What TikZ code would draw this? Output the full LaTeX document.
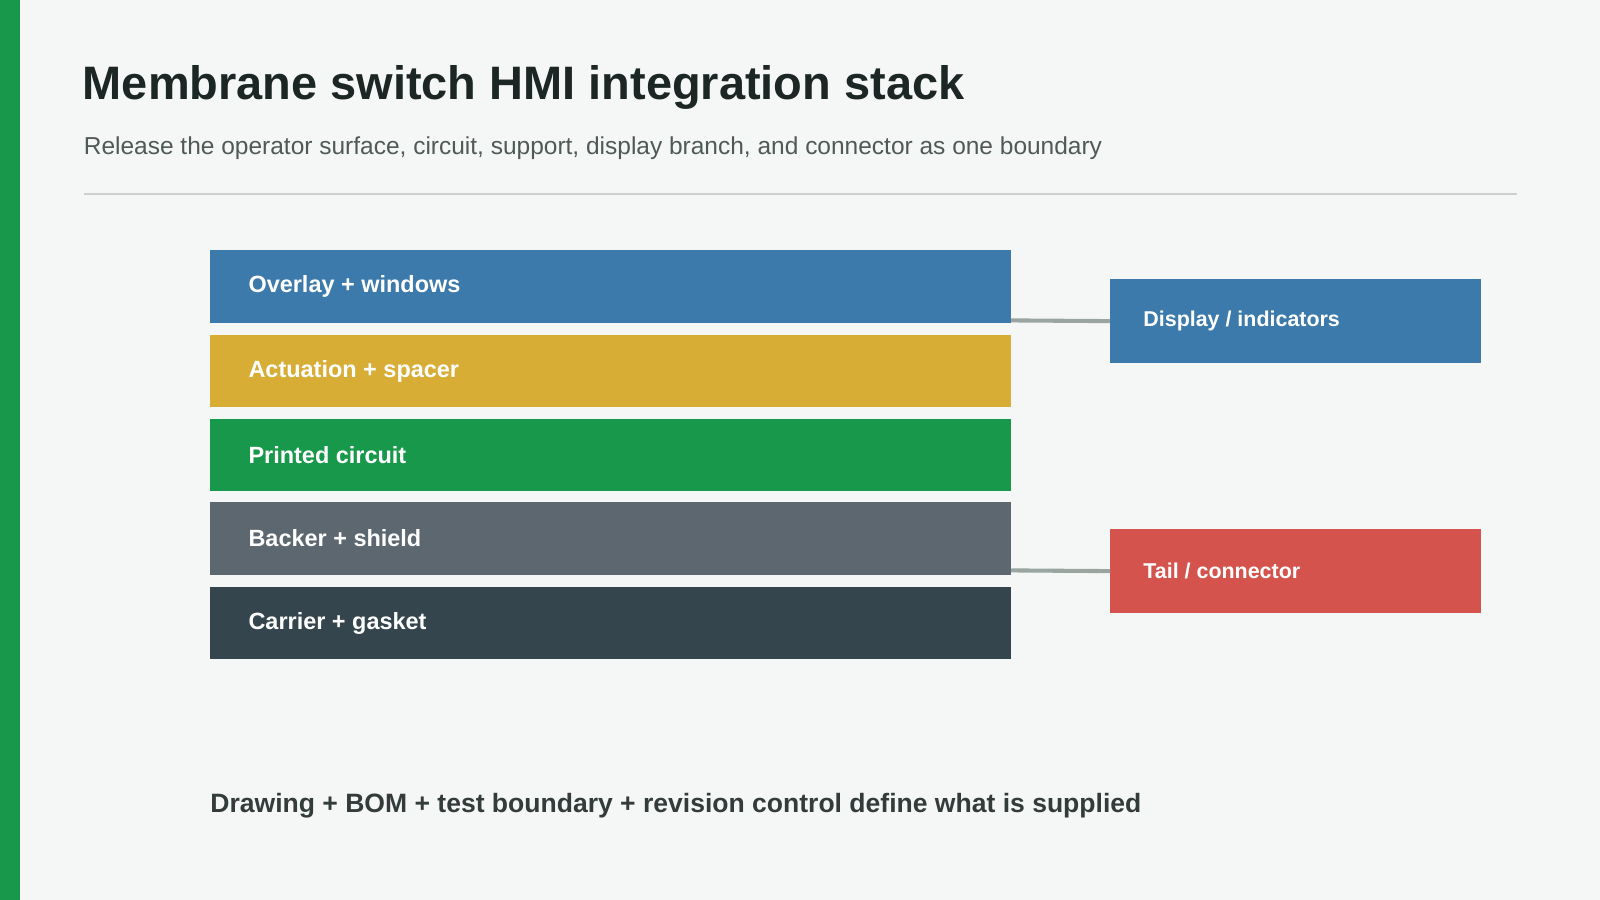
\documentclass[tikz,border=0pt]{standalone}
\usepackage{fontspec}
\setmainfont{Liberation Sans}
\definecolor{bg}{HTML}{F5F7F6}
\definecolor{cblue}{HTML}{3B7AAA}
\definecolor{cyel}{HTML}{D8AD36}
\definecolor{cgreen}{HTML}{18984A}
\definecolor{cgrey}{HTML}{5C6770}
\definecolor{cdark}{HTML}{35454D}
\definecolor{cred}{HTML}{D5534D}
\definecolor{crule}{HTML}{CCCFCD}
\definecolor{clink}{HTML}{9AA5A0}
\definecolor{ctitle}{HTML}{1C2624}
\definecolor{csub}{HTML}{4F5A57}
\begin{document}
\begin{tikzpicture}[x=1pt,y=-1pt,
  layer/.style={fill=#1,draw=none,minimum width=785pt,minimum height=71pt,inner sep=0pt,anchor=north west},
  side/.style={fill=#1,draw=none,minimum width=363pt,minimum height=83pt,inner sep=0pt,anchor=north west},
  lbl/.style={font=\bfseries\fontsize{23}{26}\selectfont,text=white,anchor=west},
  link/.style={draw=clink,line width=4pt}]
\useasboundingbox (0,0) rectangle (1568,882);
\fill[bg] (0,0) rectangle (1568,882);
\fill[cgreen] (0,0) rectangle (20,882);
\node[anchor=west,inner sep=0pt,text=ctitle,font=\bfseries\fontsize{46}{50}\selectfont] (title) at (81,86) {Membrane switch HMI integration stack};
\node[anchor=west,inner sep=0pt,text=csub,font=\fontsize{24}{28}\selectfont] (sub) at (82,145) {Release the operator surface, circuit, support, display branch, and connector as one boundary};
\draw[crule,line width=2.5pt] (82,190) -- (1487,190);
\node[layer=cblue] (l1) at (206,245) {};
\node[layer=cyel] (l2) at (206,328) {};
\node[layer=cgreen] (l3) at (206,410) {};
\node[layer=cgrey] (l4) at (206,492) {};
\node[layer=cdark] (l5) at (206,575) {};
\node[lbl] at ([xshift=34pt]l1.west) {Overlay + windows};
\node[lbl] at ([xshift=34pt]l2.west) {Actuation + spacer};
\node[lbl] at ([xshift=34pt]l3.west) {Printed circuit};
\node[lbl] at ([xshift=34pt]l4.west) {Backer + shield};
\node[lbl] at ([xshift=34pt]l5.west) {Carrier + gasket};
\node[side=cblue] (d) at (1088,273) {};
\node[side=cred] (t) at (1088,518) {};
\node[lbl,font=\bfseries\fontsize{21}{24}\selectfont] at ([xshift=29pt]d.west) {Display / indicators};
\node[lbl,font=\bfseries\fontsize{21}{24}\selectfont] at ([xshift=29pt]t.west) {Tail / connector};
\coordinate (a1) at (991,314);
\coordinate (a2) at (991,559);
\draw[link] (a1) -- (d.west);
\draw[link] (a2) -- (t.west);
\node[anchor=west,inner sep=0pt,text=ctitle!90!white,font=\bfseries\fontsize{26}{30}\selectfont] (foot) at (206,790) {Drawing + BOM + test boundary + revision control define what is supplied};
\end{tikzpicture}
\end{document}
